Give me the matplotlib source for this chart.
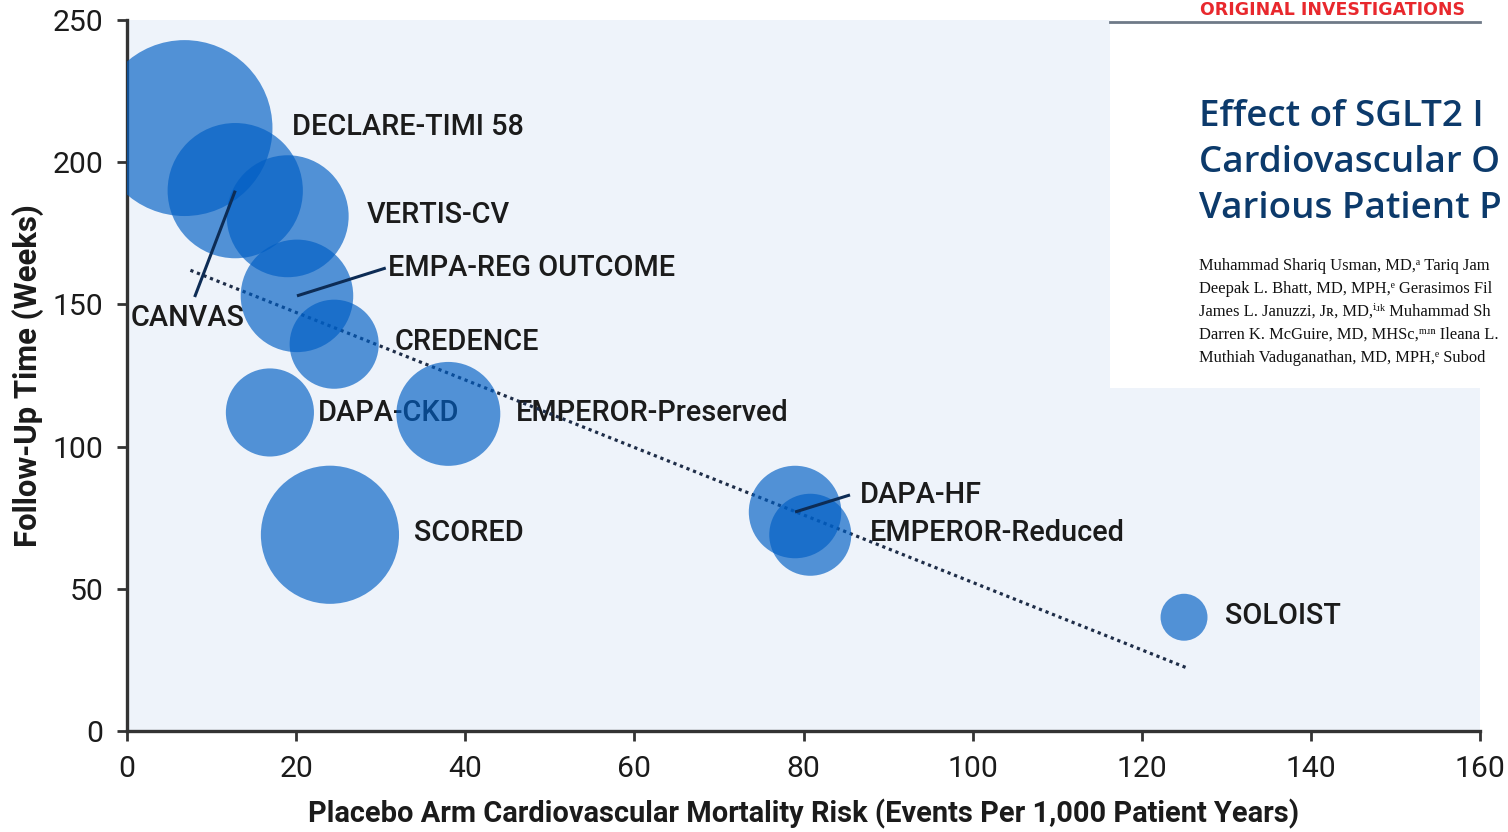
import matplotlib
matplotlib.use("Agg")
import matplotlib.pyplot as plt
from matplotlib import font_manager as fm
from matplotlib.patches import Rectangle
from matplotlib.lines import Line2D
import numpy as np

# ---------------- data ----------------
trials = ["DECLARE-TIMI 58", "CANVAS", "VERTIS-CV", "EMPA-REG OUTCOME", "CREDENCE",
          "DAPA-CKD", "EMPEROR-Preserved", "SCORED", "DAPA-HF", "EMPEROR-Reduced", "SOLOIST"]
mortality_risk = [6.8, 12.8, 19.0, 20.1, 24.5, 16.9, 38.0, 24.0, 79.0, 80.8, 125.0]
follow_up_weeks = [212, 190, 181, 153, 136, 112, 111.5, 69, 77, 69, 40]
patients = [17160, 10142, 8246, 7020, 4401, 4304, 5988, 10584, 4744, 3730, 1222]

label_x = [19.5, 7.2, 28.3, 30.9, 31.7, 22.6, 46.0, 33.9, 86.7, 87.9, 129.8]
label_y = [212.4, 145.2, 181.4, 162.8, 136.8, 111.8, 111.8, 69.6, 83.0, 69.6, 40.4]

trend_x = [7.5, 125.5]
trend_y = [162, 22]

x_ticks = [0, 20, 40, 60, 80, 100, 120, 140, 160]
y_ticks = [0, 50, 100, 150, 200, 250]

title_lines = ["Effect of SGLT2 I", "Cardiovascular O", "Various Patient P"]
author_lines = ["Muhammad Shariq Usman, MD,\u1d43 Tariq Jam",
                "Deepak L. Bhatt, MD, MPH,\u1d49 Gerasimos Fil",
                "James L. Januzzi, J\u0280, MD,\u2071\u02b4\u1d4f Muhammad Sh",
                "Darren K. McGuire, MD, MHSc,\u1d50\u02b4\u207f Ileana L.",
                "Muthiah Vaduganathan, MD, MPH,\u1d49 Subod"]

# ---------------- fonts ----------------
names = {f.name for f in fm.fontManager.ttflist}
if "Liberation Sans Narrow" in names:
    FONT = ["Liberation Sans Narrow", "DejaVu Sans"]
    scale = 1.15
else:
    FONT = ["Roboto", "DejaVu Sans"]
    scale = 1.0
plt.rcParams["font.family"] = FONT

W, H, DPI = 1508, 832, 100
fig = plt.figure(figsize=(W / DPI, H / DPI), dpi=DPI, facecolor="white")
ax = fig.add_axes([127 / W, (H - 731) / H, (1480 - 127) / W, (731 - 20) / H])
ax.set_facecolor("#eef3fa")

bubble_color = "#005ec4"
ink = "#1b1b1b"
navy = "#0d2c55"

# bubble size: area proportional to enrolled patients
sizes = np.array(patients) * 0.935
ax.scatter(mortality_risk, follow_up_weeks, s=sizes, c=bubble_color, alpha=0.66,
           linewidths=0, zorder=3)

# trend line
ax.plot(trend_x, trend_y, color="#1e2d48", lw=2.3, ls=(0, (1, 1.2)), zorder=2)

# labels
fs = 20.8 * scale
for i, name in enumerate(trials):
    ha = "center" if name == "CANVAS" else "left"
    ax.text(label_x[i], label_y[i], name, ha=ha, va="center", fontsize=fs,
            fontweight="medium", color=ink, zorder=1)

# leader lines (label -> bubble)
leaders = [("CANVAS", (8.0, 152.6)), ("EMPA-REG OUTCOME", (30.6, 162.8)),
           ("DAPA-HF", (85.5, 83.0))]
for name, start in leaders:
    i = trials.index(name)
    end = (mortality_risk[i], follow_up_weeks[i])
    ax.plot([start[0], end[0]], [start[1], end[1]], color=navy, lw=2.2, zorder=4,
            solid_capstyle="butt")

ax.set_xlim(0, 160)
ax.set_ylim(0, 250)
ax.set_xticks(x_ticks)
ax.set_yticks(y_ticks)
ax.tick_params(axis="both", labelsize=21.7 * scale, width=2, length=7, color="#333333",
               labelcolor=ink, pad=10)
for side in ["top", "right"]:
    ax.spines[side].set_visible(False)
for side in ["left", "bottom"]:
    ax.spines[side].set_linewidth(2.4)
    ax.spines[side].set_color("#333333")

ax.set_xlabel("Placebo Arm Cardiovascular Mortality Risk (Events Per 1,000 Patient Years)",
              fontsize=20.9 * scale, fontweight="bold", color=ink, labelpad=12)
ax.set_ylabel("Follow-Up Time (Weeks)", fontsize=22.4 * scale, fontweight="bold",
              color=ink, labelpad=6)

# ---------------- overlay panel (article header) ----------------
fig.add_artist(Rectangle((1110 / W, (H - 388) / H), (W - 1110) / W, (388 - 20) / H,
                         transform=fig.transFigure, facecolor="white",
                         edgecolor="none", zorder=10))
fig.add_artist(Line2D([1110 / W, 1480 / W], [(H - 22) / H, (H - 22) / H],
                      transform=fig.transFigure, color="#6f7a88", lw=2, zorder=11))
fig.text(1200 / W, (H - 1) / H, "ORIGINAL INVESTIGATIONS", ha="left", va="top",
         fontsize=12.5, color="#e8282d", fontweight="bold", family=["DejaVu Sans"],
         zorder=12)
for k, line in enumerate(title_lines):
    fig.text(1199 / W, (H - (117 + 46 * k)) / H, line, ha="left", va="center",
             fontsize=26.5, color="#0c3a6b", fontweight="semibold",
             family=["Open Sans", "DejaVu Sans"], zorder=12)
for k, line in enumerate(author_lines):
    fig.text(1199 / W, (H - (266 + 23 * k)) / H, line, ha="left", va="center",
             fontsize=11.9, color="#111111",
             family=["Liberation Serif", "DejaVu Serif"], zorder=12)

fig.savefig("out.png", dpi=DPI, facecolor="white")
